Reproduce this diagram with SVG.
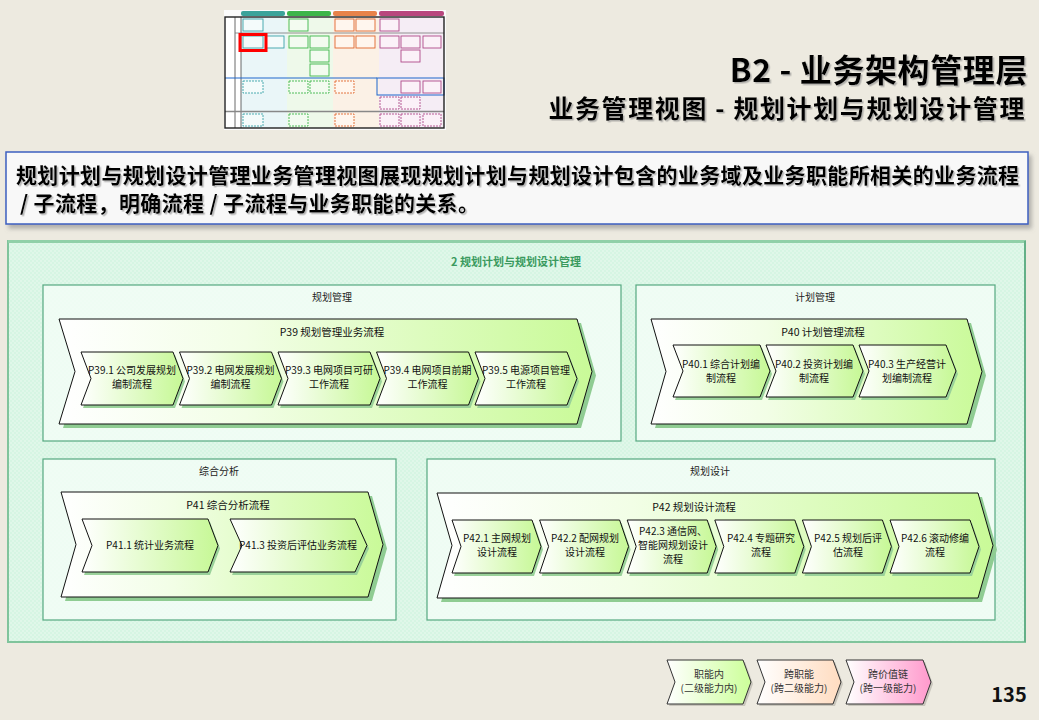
<svg xmlns="http://www.w3.org/2000/svg" width="1039" height="720" viewBox="0 0 1039 720">
<defs>
<style>
text{font-family:'Noto Sans CJK SC','Noto Sans',sans-serif;}
.t-sub{font-size:10px;fill:#111;text-anchor:middle;}
.t-big{font-size:10.5px;fill:#111;text-anchor:middle;}
.t-grp{font-size:10px;fill:#222;text-anchor:middle;}
.t-leg{font-size:10px;fill:#333;text-anchor:middle;}
.big{fill:url(#gBig);stroke:#111;stroke-width:1;}
.bigsh{fill:#8FCC92;}
.sub{fill:url(#gSub);stroke:#111;stroke-width:1;}
.subsh{fill:#9AD29A;}
.grp{fill:url(#dotsInner);stroke:#55A880;stroke-width:1.2;}
.tn{stroke-width:0.9;}
.tt{fill:#F4FBFB;stroke:#3BA3A8;}
.tg{fill:#F3FBF0;stroke:#3DB54A;}
.to{fill:#FFF6EE;stroke:#E0662C;}
.tm{fill:#FBF1F8;stroke:#B04A8A;}
</style>
<linearGradient id="gBig" x1="0" y1="0" x2="1" y2="0">
<stop offset="0" stop-color="#FFFFFF"/><stop offset="0.35" stop-color="#F2FEE6"/><stop offset="1" stop-color="#C9FA98"/>
</linearGradient>
<linearGradient id="gSub" x1="0" y1="0" x2="1" y2="0">
<stop offset="0" stop-color="#FFFFFF"/><stop offset="1" stop-color="#C6F895"/>
</linearGradient>
<linearGradient id="gL1" x1="0" y1="0" x2="1" y2="0"><stop offset="0" stop-color="#FFFFFF"/><stop offset="1" stop-color="#CCFF99"/></linearGradient>
<linearGradient id="gL2" x1="0" y1="0" x2="1" y2="0"><stop offset="0" stop-color="#FFFFFF"/><stop offset="1" stop-color="#FFDCC0"/></linearGradient>
<linearGradient id="gL3" x1="0" y1="0" x2="1" y2="0"><stop offset="0" stop-color="#FFFFFF"/><stop offset="1" stop-color="#FF99CC"/></linearGradient>
<pattern id="dotsOuter" width="4" height="4" patternUnits="userSpaceOnUse">
<rect width="4" height="4" fill="#D6F5E3"/><circle cx="1" cy="1" r="0.7" fill="#F2FCF6"/><circle cx="3" cy="3" r="0.7" fill="#F2FCF6"/>
</pattern>
<pattern id="dotsInner" width="4" height="4" patternUnits="userSpaceOnUse">
<rect width="4" height="4" fill="#EEFCF3"/><circle cx="1" cy="1" r="0.6" fill="#F9FFFB"/><circle cx="3" cy="3" r="0.6" fill="#F9FFFB"/>
</pattern>
<filter id="tsh" x="-5%" y="-20%" width="110%" height="150%">
<feDropShadow dx="1.5" dy="1.5" stdDeviation="0.6" flood-color="#888" flood-opacity="0.6"/>
</filter>
<filter id="boxsh" x="-2%" y="-10%" width="104%" height="130%">
<feDropShadow dx="3" dy="4" stdDeviation="2" flood-color="#777" flood-opacity="0.5"/>
</filter>
</defs>

<rect width="1039" height="720" fill="#EDEAE0"/>

<!-- thumbnail -->
<g id="thumbnail">
<rect x="224" y="10" width="222" height="120" fill="#FBFBFB"/>
<rect x="241" y="11" width="44" height="5" rx="2" fill="#3BA39A"/>
<rect x="287" y="11" width="44" height="5" rx="2" fill="#3DB54A"/>
<rect x="333" y="11" width="44" height="5" rx="2" fill="#E8834A"/>
<rect x="379" y="11" width="65" height="5" rx="2" fill="#B8477E"/>
<rect x="241" y="17" width="46" height="111" fill="#EAF6F8"/>
<rect x="287" y="17" width="46" height="111" fill="#EEF9EA"/>
<rect x="333" y="17" width="46" height="111" fill="#FBF1E6"/>
<rect x="379" y="17" width="65" height="111" fill="#F5EDF5"/>
<rect x="225" y="17" width="16" height="111" fill="#FFFFFF"/>
<line x1="235" y1="17" x2="235" y2="128" stroke="#444" stroke-width="0.8"/>
<line x1="241" y1="17" x2="241" y2="128" stroke="#444" stroke-width="0.8"/>
<line x1="235" y1="33" x2="444" y2="33" stroke="#777" stroke-width="0.8"/>
<line x1="225" y1="78" x2="377" y2="78" stroke="#1E66CC" stroke-width="1"/>
<rect x="377" y="78" width="67" height="17" fill="none" stroke="#1E66CC" stroke-width="1"/>
<line x1="225" y1="111.5" x2="444" y2="111.5" stroke="#888" stroke-width="1.6"/>
<rect x="225" y="17" width="219" height="111" fill="none" stroke="#222" stroke-width="1.4"/>
<g class="tn">
<rect class="tt" x="243" y="19" width="20" height="12"/>
<rect class="tg" x="289" y="19" width="19" height="12"/>
<rect class="to" x="335" y="19" width="19" height="12"/>
<rect class="to" x="356" y="19" width="19" height="12"/>
<rect class="tm" x="380" y="19" width="19" height="12"/>
<rect class="tt" x="243" y="36" width="20" height="12"/>
<rect class="tt" x="266" y="36" width="18" height="12"/>
<rect class="tg" x="289" y="36" width="19" height="12"/>
<rect class="tg" x="310" y="36" width="19" height="12"/>
<rect class="to" x="335" y="36" width="19" height="12"/>
<rect class="to" x="356" y="36" width="19" height="12"/>
<rect class="tm" x="380" y="36" width="19" height="12"/>
<rect class="tm" x="401" y="36" width="19" height="12"/>
<rect class="tm" x="423" y="36" width="18" height="12"/>
<rect class="tg" x="310" y="50" width="19" height="12"/>
<rect class="tm" x="401" y="50" width="19" height="12"/>
<rect class="tg" x="310" y="64" width="19" height="12"/>
<rect class="tt" x="243" y="81" width="20" height="12" stroke-dasharray="2 1"/>
<rect class="tg" x="289" y="81" width="19" height="12" stroke-dasharray="2 1"/>
<rect class="tg" x="310" y="81" width="19" height="12" stroke-dasharray="2 1"/>
<rect class="to" x="335" y="81" width="19" height="12" stroke-dasharray="2 1"/>
<rect class="tm" x="401" y="81" width="19" height="12"/>
<rect class="tm" x="423" y="81" width="18" height="12"/>
<rect class="tm" x="380" y="97" width="19" height="12" stroke-dasharray="2 1"/>
<rect class="tm" x="401" y="97" width="19" height="12" stroke-dasharray="2 1"/>
<rect class="tt" x="243" y="114" width="20" height="12" stroke-dasharray="2 1"/>
<rect class="tg" x="289" y="114" width="19" height="12" stroke-dasharray="2 1"/>
<rect class="to" x="335" y="114" width="19" height="12" stroke-dasharray="2 1"/>
<rect class="tm" x="380" y="114" width="19" height="12" stroke-dasharray="2 1"/>
<rect class="tm" x="401" y="114" width="19" height="12" stroke-dasharray="2 1"/>
<rect class="tm" x="423" y="114" width="18" height="12" stroke-dasharray="2 1"/>
</g>
<rect x="240" y="34.5" width="26" height="16" fill="none" stroke="#FF0000" stroke-width="3"/>
</g>

<!-- titles -->
<g id="title" filter="url(#tsh)">
<text x="1028" y="82" font-size="32" font-weight="bold" text-anchor="end" letter-spacing="0.6" fill="#000">B2 - 业务架构管理层</text>
<text x="1026" y="118" font-size="25" font-weight="bold" text-anchor="end" letter-spacing="1.6" fill="#000">业务管理视图 - 规划计划与规划设计管理</text>
</g>

<!-- description -->
<g id="description">
<rect x="6" y="152" width="1022" height="72" fill="#F8F8F8" stroke="#3D5FC0" stroke-width="1.5" filter="url(#boxsh)"/>
<g filter="url(#tsh)">
<text x="16" y="183" font-size="21" font-weight="bold" letter-spacing="0.35" fill="#000">规划计划与规划设计管理业务管理视图展现规划计划与规划设计包含的业务域及业务职能所相关的业务流程</text>
<text x="20" y="211" font-size="21" font-weight="bold" letter-spacing="0.35" fill="#000">/ 子流程，明确流程 / 子流程与业务职能的关系。</text>
</g>
</g>

<!-- outer container -->
<g id="container-2">
<rect x="8" y="241" width="1017" height="401" fill="url(#dotsOuter)" stroke="#80C49C" stroke-width="2"/>
<line x1="8" y1="241.5" x2="1025" y2="241.5" stroke="#90D0A8" stroke-width="3"/>
<line x1="1025" y1="241" x2="1025" y2="642" stroke="#5AAA80" stroke-width="1.5"/>
<text x="516" y="266" font-size="11" font-weight="bold" fill="#3A9A5E" text-anchor="middle">2 规划计划与规划设计管理</text>
</g>

<!-- groups -->
<g id="group-guihua-guanli">
<rect class="grp" x="43" y="285" width="578" height="156"/>
<text class="t-grp" x="332" y="301">规划管理</text>
</g>
<g id="group-jihua-guanli">
<rect class="grp" x="636" y="285" width="359" height="156"/>
<text class="t-grp" x="815" y="301">计划管理</text>
</g>
<g id="group-zonghe-fenxi">
<rect class="grp" x="43" y="459" width="353" height="161"/>
<text class="t-grp" x="219" y="475">综合分析</text>
</g>
<g id="group-guihua-sheji">
<rect class="grp" x="427" y="459" width="568" height="161"/>
<text class="t-grp" x="710" y="475">规划设计</text>
</g>

<!-- P39 -->
<g id="P39">
<polygon class="bigsh" points="63,323 581,323 596,375.5 581,428 63,428 79,375.5"/>
<polygon class="big" points="59,319 577,319 592,371.5 577,424 59,424 75,371.5"/>
<text class="t-big" x="332" y="336">P39 规划管理业务流程</text>
</g>
<g id="P39-1">
<polygon class="subsh" points="83,355 175,355 185,381.5 175,408 83,408 93,381.5"/>
<polygon class="sub" points="81,352 173,352 183,378.5 173,405 81,405 91,378.5"/>
<text class="t-sub" x="132" y="374">P39.1 公司发展规划</text><text class="t-sub" x="132" y="388">编制流程</text>
</g>
<g id="P39-2">
<polygon class="subsh" points="181.5,355 273.5,355 283.5,381.5 273.5,408 181.5,408 191.5,381.5"/>
<polygon class="sub" points="179.5,352 271.5,352 281.5,378.5 271.5,405 179.5,405 189.5,378.5"/>
<text class="t-sub" x="230.5" y="374">P39.2 电网发展规划</text><text class="t-sub" x="230.5" y="388">编制流程</text>
</g>
<g id="P39-3">
<polygon class="subsh" points="280,355 372,355 382,381.5 372,408 280,408 290,381.5"/>
<polygon class="sub" points="278,352 370,352 380,378.5 370,405 278,405 288,378.5"/>
<text class="t-sub" x="329" y="374">P39.3 电网项目可研</text><text class="t-sub" x="329" y="388">工作流程</text>
</g>
<g id="P39-4">
<polygon class="subsh" points="378.5,355 470.5,355 480.5,381.5 470.5,408 378.5,408 388.5,381.5"/>
<polygon class="sub" points="376.5,352 468.5,352 478.5,378.5 468.5,405 376.5,405 386.5,378.5"/>
<text class="t-sub" x="427.5" y="374">P39.4 电网项目前期</text><text class="t-sub" x="427.5" y="388">工作流程</text>
</g>
<g id="P39-5">
<polygon class="subsh" points="477,355 569,355 579,381.5 569,408 477,408 487,381.5"/>
<polygon class="sub" points="475,352 567,352 577,378.5 567,405 475,405 485,378.5"/>
<text class="t-sub" x="526" y="374">P39.5 电源项目管理</text><text class="t-sub" x="526" y="388">工作流程</text>
</g>

<!-- P40 -->
<g id="P40">
<polygon class="bigsh" points="655,323 971,323 986,375.5 971,428 655,428 670,375.5"/>
<polygon class="big" points="651,319 967,319 982,371.5 967,424 651,424 666,371.5"/>
<text class="t-big" x="823" y="336">P40 计划管理流程</text>
</g>
<g id="P40-1">
<polygon class="subsh" points="675,348 762,348 772,374 762,400 675,400 685,374"/>
<polygon class="sub" points="673,345 760,345 770,371 760,397 673,397 683,371"/>
<text class="t-sub" x="721" y="368">P40.1 综合计划编</text><text class="t-sub" x="721" y="382">制流程</text>
</g>
<g id="P40-2">
<polygon class="subsh" points="768,348 855,348 865,374 855,400 768,400 778,374"/>
<polygon class="sub" points="766,345 853,345 863,371 853,397 766,397 776,371"/>
<text class="t-sub" x="814" y="368">P40.2 投资计划编</text><text class="t-sub" x="814" y="382">制流程</text>
</g>
<g id="P40-3">
<polygon class="subsh" points="861,348 948,348 958,374 948,400 861,400 871,374"/>
<polygon class="sub" points="859,345 946,345 956,371 946,397 859,397 869,371"/>
<text class="t-sub" x="907" y="368">P40.3 生产经营计</text><text class="t-sub" x="907" y="382">划编制流程</text>
</g>

<!-- P41 -->
<g id="P41">
<polygon class="bigsh" points="65,496 372,496 387,548.5 372,601 65,601 80,548.5"/>
<polygon class="big" points="61,492 368,492 383,544.5 368,597 61,597 76,544.5"/>
<text class="t-big" x="228" y="509">P41 综合分析流程</text>
</g>
<g id="P41-1">
<polygon class="subsh" points="84,522 210,522 220,548.5 210,575 84,575 94,548.5"/>
<polygon class="sub" points="82,519 208,519 218,545.5 208,572 82,572 92,545.5"/>
<text class="t-sub" x="150" y="549">P41.1 统计业务流程</text>
</g>
<g id="P41-3">
<polygon class="subsh" points="232,522 357,522 369,548.5 357,575 232,575 244,548.5"/>
<polygon class="sub" points="230,519 355,519 367,545.5 355,572 230,572 242,545.5"/>
<text class="t-sub" x="298" y="549">P41.3 投资后评估业务流程</text>
</g>

<!-- P42 -->
<g id="P42">
<polygon class="bigsh" points="441,497 982,497 997,549.5 982,602 441,602 456,549.5"/>
<polygon class="big" points="437,493 978,493 993,545.5 978,598 437,598 452,545.5"/>
<text class="t-big" x="694" y="511">P42 规划设计流程</text>
</g>
<g id="P42-1">
<polygon class="subsh" points="454,523 534,523 543,549.5 534,576 454,576 463,549.5"/>
<polygon class="sub" points="452,520 532,520 541,546.5 532,573 452,573 461,546.5"/>
<text class="t-sub" x="497" y="542">P42.1 主网规划</text><text class="t-sub" x="497" y="556">设计流程</text>
</g>
<g id="P42-2">
<polygon class="subsh" points="541.6,523 621.6,523 630.6,549.5 621.6,576 541.6,576 550.6,549.5"/>
<polygon class="sub" points="539.6,520 619.6,520 628.6,546.5 619.6,573 539.6,573 548.6,546.5"/>
<text class="t-sub" x="585" y="542">P42.2 配网规划</text><text class="t-sub" x="585" y="556">设计流程</text>
</g>
<g id="P42-3">
<polygon class="subsh" points="629.2,523 709.2,523 718.2,549.5 709.2,576 629.2,576 638.2,549.5"/>
<polygon class="sub" points="627.2,520 707.2,520 716.2,546.5 707.2,573 627.2,573 636.2,546.5"/>
<text class="t-sub" x="673" y="535">P42.3 通信网、</text><text class="t-sub" x="673" y="549">智能网规划设计</text><text class="t-sub" x="673" y="563">流程</text>
</g>
<g id="P42-4">
<polygon class="subsh" points="716.8,523 796.8,523 805.8,549.5 796.8,576 716.8,576 725.8,549.5"/>
<polygon class="sub" points="714.8,520 794.8,520 803.8,546.5 794.8,573 714.8,573 723.8,546.5"/>
<text class="t-sub" x="761" y="542">P42.4 专题研究</text><text class="t-sub" x="761" y="556">流程</text>
</g>
<g id="P42-5">
<polygon class="subsh" points="804.4,523 884.4,523 893.4,549.5 884.4,576 804.4,576 813.4,549.5"/>
<polygon class="sub" points="802.4,520 882.4,520 891.4,546.5 882.4,573 802.4,573 811.4,546.5"/>
<text class="t-sub" x="848" y="542">P42.5 规划后评</text><text class="t-sub" x="848" y="556">估流程</text>
</g>
<g id="P42-6">
<polygon class="subsh" points="892,523 972,523 981,549.5 972,576 892,576 901,549.5"/>
<polygon class="sub" points="890,520 970,520 979,546.5 970,573 890,573 899,546.5"/>
<text class="t-sub" x="935" y="542">P42.6 滚动修编</text><text class="t-sub" x="935" y="556">流程</text>
</g>

<g id="connectors"></g>

<!-- legend -->
<g id="legend-1">
<polygon points="669,662 745,662 753,684 745,706 669,706 677,684" fill="#C9C6BC"/>
<polygon points="667,660 743,660 751,682 743,704 667,704 675,682" fill="url(#gL1)" stroke="#333" stroke-width="1"/>
<text class="t-leg" x="709" y="678">职能内</text><text class="t-leg" x="709" y="692">(二级能力内)</text>
</g>
<g id="legend-2">
<polygon points="759,662 835,662 843,684 835,706 759,706 767,684" fill="#C9C6BC"/>
<polygon points="757,660 833,660 841,682 833,704 757,704 765,682" fill="url(#gL2)" stroke="#333" stroke-width="1"/>
<text class="t-leg" x="799" y="678">跨职能</text><text class="t-leg" x="799" y="692">(跨二级能力)</text>
</g>
<g id="legend-3">
<polygon points="848,662 925,662 933,684 925,706 848,706 856,684" fill="#C9C6BC"/>
<polygon points="846,660 923,660 931,682 923,704 846,704 854,682" fill="url(#gL3)" stroke="#333" stroke-width="1"/>
<text class="t-leg" x="888" y="678">跨价值链</text><text class="t-leg" x="888" y="692">(跨一级能力)</text>
</g>

<text x="1009" y="702" font-size="20" font-weight="bold" text-anchor="middle" fill="#111" font-family="'Open Sans','Noto Sans',sans-serif">135</text>
</svg>
